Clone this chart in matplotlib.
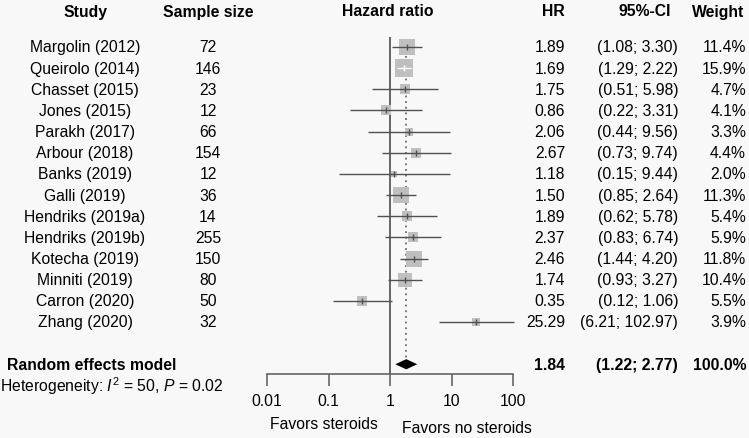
import numpy as np
import matplotlib
matplotlib.use("Agg")
import matplotlib.pyplot as plt
import matplotlib.transforms as mtransforms

plt.rcParams['font.family'] = ['Liberation Sans', 'DejaVu Sans']
plt.rcParams['mathtext.fontset'] = 'custom'
plt.rcParams['mathtext.rm'] = 'Liberation Sans'
plt.rcParams['mathtext.it'] = 'Liberation Sans:italic'

# data
studies = ['Margolin (2012)', 'Queirolo (2014)', 'Chasset (2015)', 'Jones (2015)',
           'Parakh (2017)', 'Arbour (2018)', 'Banks (2019)', 'Galli (2019)',
           'Hendriks (2019a)', 'Hendriks (2019b)', 'Kotecha (2019)', 'Minniti (2019)',
           'Carron (2020)', 'Zhang (2020)']
sample_size = [72, 146, 23, 12, 66, 154, 12, 36, 14, 255, 150, 80, 50, 32]
hr = [1.89, 1.69, 1.75, 0.86, 2.06, 2.67, 1.18, 1.50, 1.89, 2.37, 2.46, 1.74, 0.35, 25.29]
ci_lo = [1.08, 1.29, 0.51, 0.22, 0.44, 0.73, 0.15, 0.85, 0.62, 0.83, 1.44, 0.93, 0.12, 6.21]
ci_hi = [3.30, 2.22, 5.98, 3.31, 9.56, 9.74, 9.44, 2.64, 5.78, 6.74, 4.20, 3.27, 1.06, 102.97]
weight = [11.4, 15.9, 4.7, 4.1, 3.3, 4.4, 2.0, 11.3, 5.4, 5.9, 11.8, 10.4, 5.5, 3.9]

pooled_hr = 1.84
pooled_lo = 1.22
pooled_hi = 2.77
het_text = r'Heterogeneity: $\mathit{I}^2$ = 50, $\mathit{P}$ = 0.02'
xticks = [0.01, 0.1, 1, 10, 100]
xtick_labels = ['0.01', '0.1', '1', '10', '100']

W, H = 749, 439
bg = '#f8f8f8'
fs = 11.3
fig = plt.figure(figsize=(W / 100, H / 100), dpi=100, facecolor=bg)

# axes spans the log scale region (0.01 -> 100)
x0, x1 = 267, 513
top_px, bot_px = 38, 375
row0, step = 48, 21.15
ax = fig.add_axes([x0 / W, 1 - bot_px / H, (x1 - x0) / W, (bot_px - top_px) / H])
ax.set_facecolor('none')
ax.set_xscale('log')
ax.set_xlim(0.01, 100)
ymin = (top_px - row0) / step
ymax = (bot_px - row0) / step
ax.set_ylim(ymax, ymin)

rows = np.arange(len(studies))
pooled_row = 15

# reference lines
ax.vlines(1, ymin, ymax, color='#5a5a5a', lw=1.3, zorder=1)
ax.vlines(pooled_hr, ymin + 0.1, pooled_row - 0.25, color='#555555', lw=1.1,
          linestyles=(0, (1.2, 2.5)), zorder=1)

# squares + CI
px_per_dec = (x1 - x0) / 4
for i in rows:
    s = weight[i] * 10.6
    half_px = np.sqrt(s) / 0.72 / 2
    ax.scatter(hr[i], i, marker='s', s=s, color='#bfbfbf', lw=0, zorder=2)
    left_px = np.log10(hr[i] / ci_lo[i]) * px_per_dec
    right_px = np.log10(ci_hi[i] / hr[i]) * px_per_dec
    inside = left_px < half_px and right_px < half_px
    c = 'white' if inside else '#505050'
    ax.hlines(i, ci_lo[i], ci_hi[i], color=c, lw=1.0, zorder=3, clip_on=False)
    ax.plot(hr[i], i, marker='|', ms=5, mew=1.0, color=c, zorder=4)

# diamond
ax.fill([pooled_lo, pooled_hr, pooled_hi, pooled_hr],
        [pooled_row, pooled_row - 0.24, pooled_row, pooled_row + 0.24],
        color='black', lw=0, zorder=3)

for side in ['top', 'right', 'left']:
    ax.spines[side].set_visible(False)
ax.spines['bottom'].set_color('#666666')
ax.spines['bottom'].set_linewidth(1.2)
ax.set_yticks([])
ax.set_xticks(xticks)
ax.set_xticklabels(xtick_labels, fontsize=fs)
ax.minorticks_off()
ax.tick_params(axis='x', direction='out', length=8.6, width=1.2, color='#666666', pad=5)

# text columns
tr = mtransforms.blended_transform_factory(fig.transFigure, ax.transData)
hy = 1 - 12 / H
fig.text(85 / W, hy, 'Study', ha='center', va='center', fontsize=fs, weight='bold')
fig.text(208 / W, hy, 'Sample size', ha='center', va='center', fontsize=fs, weight='bold')
fig.text(388 / W, hy, 'Hazard ratio', ha='center', va='center', fontsize=fs, weight='bold')
fig.text(565 / W, hy, 'HR', ha='right', va='center', fontsize=fs, weight='bold')
fig.text(645 / W, hy, '95%-CI', ha='center', va='center', fontsize=fs, weight='bold')
fig.text(718 / W, hy, 'Weight', ha='center', va='center', fontsize=fs, weight='bold')

for i in rows:
    ax.text(85 / W, i, studies[i], transform=tr, ha='center', va='center', fontsize=fs)
    ax.text(208 / W, i, str(sample_size[i]), transform=tr, ha='center', va='center', fontsize=fs)
    ax.text(565 / W, i, f'{hr[i]:.2f}', transform=tr, ha='right', va='center', fontsize=fs)
    ax.text(678 / W, i, f'({ci_lo[i]:.2f}; {ci_hi[i]:.2f})', transform=tr, ha='right',
            va='center', fontsize=fs)
    ax.text(746 / W, i, f'{weight[i]:.1f}%', transform=tr, ha='right', va='center', fontsize=fs)

ax.text(7 / W, pooled_row, 'Random effects model', transform=tr, ha='left', va='center',
        fontsize=fs, weight='bold')
ax.text(565 / W, pooled_row, f'{pooled_hr:.2f}', transform=tr, ha='right', va='center',
        fontsize=fs, weight='bold')
ax.text(678 / W, pooled_row, f'({pooled_lo:.2f}; {pooled_hi:.2f})', transform=tr,
        ha='right', va='center', fontsize=fs, weight='bold')
ax.text(746 / W, pooled_row, f'{sum(weight):.1f}%', transform=tr, ha='right', va='center',
        fontsize=fs, weight='bold')

fig.text(0 / W, 1 - 386 / H, het_text, ha='left', va='center', fontsize=fs)
fig.text(378 / W, 1 - 425 / H, 'Favors steroids', ha='right', va='center', fontsize=fs)
fig.text(402 / W, 1 - 429 / H, 'Favors no steroids', ha='left', va='center', fontsize=fs)

fig.savefig('out.png', dpi=100, facecolor=bg)
